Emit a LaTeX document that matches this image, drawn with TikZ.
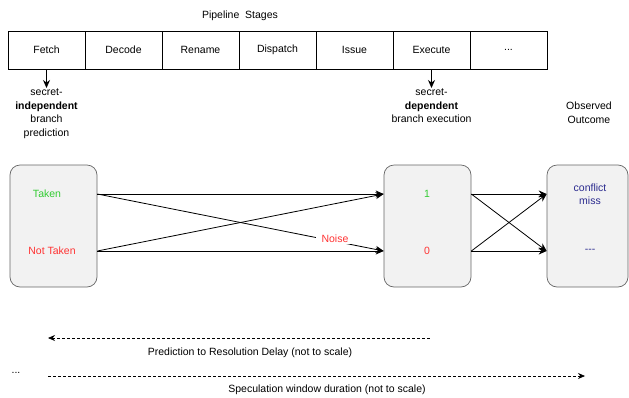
\documentclass[tikz,border=0pt]{standalone}
\usepackage{fontspec}
\setmainfont{Liberation Sans}
\usetikzlibrary{arrows.meta,positioning}
\definecolor{takengreen}{HTML}{33CC33}
\definecolor{nottakenred}{HTML}{FF3333}
\definecolor{outnavy}{HTML}{2B2B8F}

\begin{document}
\begin{tikzpicture}[
    x=1pt, y=1pt,
    every node/.style={font=\fontsize{10.5}{13.5}\selectfont},
    stage/.style={draw, line width=0.8pt, outer sep=0pt, minimum width=77pt, minimum height=38pt},
    note/.style={align=center, inner sep=1pt},
    state/.style={draw=black!60, fill=black!5, rounded corners=10pt, line width=0.7pt, minimum width=87pt, minimum height=122pt},
    flow/.style={-{Stealth[length=8pt,width=7pt]}, line width=0.8pt},
    span/.style={dash pattern=on 2.5pt off 2.5pt, line width=0.7pt},
    spantip/.style={-{Stealth[length=7pt,width=6pt]}}
]
\useasboundingbox (0,0) rectangle (629,-397);

% pipeline
\node[stage] (fetch) at (46.5,-50) {Fetch};
\node[stage, right=0pt of fetch] (decode) {Decode};
\node[stage, right=0pt of decode] (rename) {Rename};
\node[stage, right=0pt of rename] (dispatch) {Dispatch};
\node[stage, right=0pt of dispatch] (issue) {Issue};
\node[stage, right=0pt of issue] (execute) {Execute};
\node[stage, right=0pt of execute] (more) {...};
\node (title) at (240,-16) {Pipeline~~Stages};

\node[note, below=19pt of fetch] (indep) {secret-\\\textbf{independent}\\branch\\prediction};
\node[note, below=19pt of execute] (dep) {secret-\\\textbf{dependent}\\branch execution};
\node[note] (observed) at (589,-112.5) {Observed\\Outcome};
\draw[flow] (fetch) -- (indep);
\draw[flow] (execute) -- (dep);

% predictor / branch / outcome
\node[state] (pred) at (53.5,-226) {};
\node[state] (branch) at (427.5,-226) {};
\node[state, minimum width=81pt] (outcome) at (587.5,-226) {};

\node[text=takengreen] (taken) at (47,-194) {Taken};
\node[text=nottakenred] (nottaken) at (52,-251) {Not Taken};
\node[text=takengreen] (one) at (427,-194) {1};
\node[text=nottakenred] (zero) at (427,-251) {0};
\node[note, text=outnavy] (miss) at (590,-194) {conflict\\miss};
\node[text=outnavy] (none) at (590,-251) {{-}{-}{-}};

\draw[flow] (pred.east |- taken) -- (branch.west |- one);
\draw[flow] (pred.east |- nottaken) -- (branch.west |- zero);
\draw[flow] (pred.east |- nottaken) -- (branch.west |- one);
\draw[flow] (pred.east |- taken) -- node[pos=0.83, yshift=3pt, fill=white, inner xsep=6pt, inner ysep=2pt, text=nottakenred] (noise) {Noise} (branch.west |- zero);

\draw[flow] (branch.east |- one) -- (outcome.west |- one);
\draw[flow] (branch.east |- one) -- (outcome.west |- none);
\draw[flow] (branch.east |- zero) -- (outcome.west |- one);
\draw[flow] (branch.east |- zero) -- (outcome.west |- none);

% timing
\coordinate (delaystart) at (48,-338);
\coordinate (delayend) at (432,-338);
\coordinate (windowstart) at (48,-376);
\coordinate (windowend) at (585,-376);
\draw[span, spantip, {Stealth[length=7pt,width=6pt]}-] (delaystart) -- (delayend);
\draw[span, spantip] (windowstart) -- (windowend);
\node (delay) at (250,-352.5) {Prediction to Resolution Delay (not to scale)};
\node (dots) at (16,-373) {...};
\node (window) at (327,-390) {Speculation window duration (not to scale)};
\end{tikzpicture}
\end{document}
